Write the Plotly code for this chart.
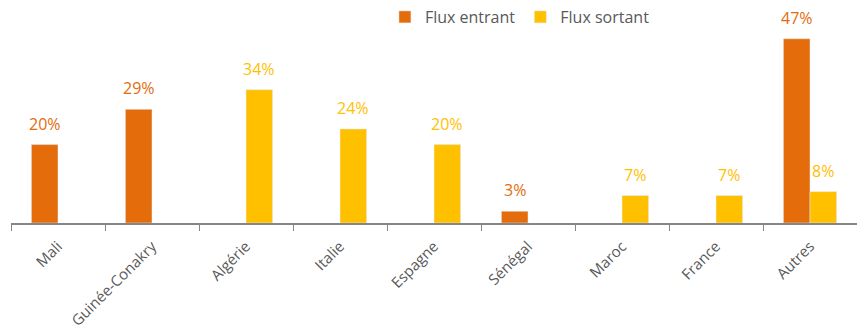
import plotly.graph_objects as go

# Destinations / origins of the flows
categories = ["Mali", "Guinée-Conakry", "Algérie", "Italie", "Espagne",
              "Sénégal", "Maroc", "France", "Autres"]
# Share of each flow (%); None where the country has no bar for that flow
flux_entrant = [20, 29, None, None, None, 3, None, None, 47]
flux_sortant = [None, None, 34, 24, 20, None, 7, 7, 8]

ORANGE = "#E46C0A"
YELLOW = "#FFC000"
GREY_TXT = "#595959"
FONT = "'Open Sans', Lato, sans-serif"

fig = go.Figure()
fig.add_trace(go.Bar(name="Flux entrant", x=categories, y=flux_entrant,
                     marker_color=ORANGE))
fig.add_trace(go.Bar(name="Flux sortant", x=categories, y=flux_sortant,
                     marker_color=YELLOW))

# Value labels above bars, coloured like their series
annotations = []
for vals, color, shift in ((flux_entrant, ORANGE, -13.3), (flux_sortant, YELLOW, 13.3)):
    for cat, v in zip(categories, vals):
        if v is None:
            continue
        annotations.append(dict(
            x=cat, y=v, text=f"{v}%", showarrow=False,
            xref="x", yref="y", xanchor="center", yanchor="bottom",
            xshift=shift, yshift=8,
            font=dict(family=FONT, size=16, color=color),
        ))

fig.update_layout(
    width=857, height=332,
    margin=dict(l=11, r=0, t=27, b=109),
    paper_bgcolor="white", plot_bgcolor="white",
    barmode="group", bargap=0.434, bargroupgap=0,
    font=dict(family=FONT, size=16, color=GREY_TXT),
    showlegend=True,
    legend=dict(orientation="h", x=0.442, xanchor="left", y=1.051, yanchor="middle",
                font=dict(family=FONT, size=16, color=GREY_TXT),
                bgcolor="rgba(0,0,0,0)"),
    annotations=annotations,
)
fig.update_xaxes(
    showline=True, linecolor="#868686", linewidth=1.5,
    ticks="outside", tickson="boundaries", ticklen=6, tickcolor="#868686",
    tickangle=-45, tickfont=dict(family=FONT, size=15, color=GREY_TXT),
    ticklabelstandoff=7, automargin=False,
    showgrid=False, fixedrange=True,
)
fig.update_yaxes(range=[0, 50], visible=False, showgrid=False, zeroline=False)

fig.write_html("out.html")
